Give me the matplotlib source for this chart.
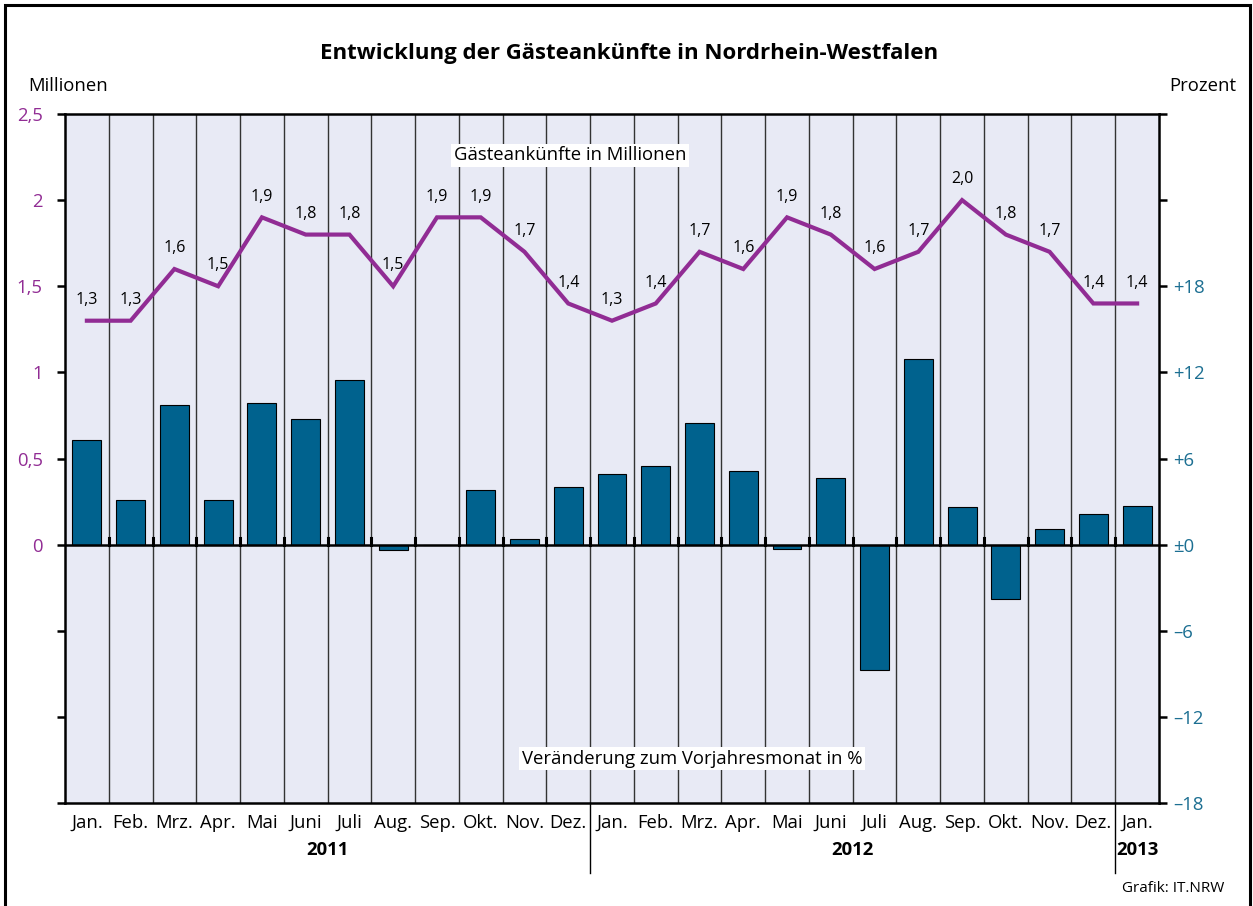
import matplotlib.pyplot as plt
import matplotlib.patches as patches
from matplotlib.transforms import blended_transform_factory

plt.rcParams['font.family'] = ['Open Sans', 'DejaVu Sans']

months = ['Jan.', 'Feb.', 'Mrz.', 'Apr.', 'Mai', 'Juni', 'Juli', 'Aug.',
          'Sep.', 'Okt.', 'Nov.', 'Dez.',
          'Jan.', 'Feb.', 'Mrz.', 'Apr.', 'Mai', 'Juni', 'Juli', 'Aug.',
          'Sep.', 'Okt.', 'Nov.', 'Dez.', 'Jan.']
arrivals = [1.3, 1.3, 1.6, 1.5, 1.9, 1.8, 1.8, 1.5, 1.9, 1.9, 1.7, 1.4,
            1.3, 1.4, 1.7, 1.6, 1.9, 1.8, 1.6, 1.7, 2.0, 1.8, 1.7, 1.4, 1.4]
change_pct = [7.3, 3.1, 9.7, 3.1, 9.9, 8.75, 11.5, -0.35, 0.0, 3.8, 0.4, 4.0,
              4.9, 5.5, 8.5, 5.1, -0.3, 4.65, -8.7, 12.9, 2.6, -3.8, 1.1, 2.15,
              2.7]
years = ['2011', '2012', '2013']
year_spans = [(0, 11), (12, 23), (24, 24)]

left_ticks = [2.5, 2, 1.5, 1, 0.5, 0, -0.5, -1, -1.5]
left_labels = ['2,5', '2', '1,5', '1', '0,5', '0', '', '', '']
right_ticks = [30, 24, 18, 12, 6, 0, -6, -12, -18]
right_labels = ['', '', '+18', '+12', '+6', '±0', '–6', '–12', '–18']

BAR = '#00628E'
LINE = '#912C94'
PCT = '#1C6F92'
BG = '#E8EAF5'
FS = 13.3

fig = plt.figure(figsize=(12.53, 9.06), dpi=100)
ax = fig.add_axes([65 / 1253, 1 - 803 / 906, 1094 / 1253, 689 / 906])
ax.set_facecolor(BG)
n = len(months)
x = list(range(n))

# percent axis (bars)
ax.set_xlim(-0.5, n - 0.5)
ax.set_ylim(-18, 30)
for b in range(1, n):
    ax.axvline(b - 0.5, color='#333333', lw=1.0, zorder=1)
    ax.plot([b - 0.5, b - 0.5], [0, 0.45], color='black', lw=2.2, zorder=4)
ax.bar(x, change_pct, width=0.66, color=BAR, edgecolor='black', lw=0.8,
       zorder=2)
ax.axhline(0, color='black', lw=1.8, zorder=4)
ax.set_xticks(x)
ax.set_xticklabels(months, fontsize=FS)
ax.tick_params(axis='x', length=0, pad=8)
for s in ax.spines.values():
    s.set_linewidth(1.8)

# millions axis (line)
axm = ax.twinx()
axm.set_ylim(-1.5, 2.5)
axm.plot(x, arrivals, color=LINE, lw=3.0, zorder=5, solid_joinstyle='miter')
for xi, v in zip(x, arrivals):
    axm.annotate(f'{v:.1f}'.replace('.', ','), (xi, v), xytext=(0, 15),
                 textcoords='offset points', ha='center', va='center',
                 fontsize=11.5)
for s in axm.spines.values():
    s.set_visible(False)

# tick sides: millions left, percent right
axm.yaxis.tick_left()
axm.set_yticks(left_ticks)
axm.set_yticklabels(left_labels, color=LINE, fontsize=FS)
axm.tick_params(axis='y', length=6, width=1.8, pad=10)
ax.yaxis.tick_right()
ax.set_yticks(right_ticks)
ax.set_yticklabels(right_labels, color=PCT, fontsize=FS)
ax.tick_params(axis='y', length=6, width=1.8, pad=4)

axm.text(11.04, 2.26, 'Gästeankünfte in Millionen', ha='center', va='center',
         fontsize=FS, bbox=dict(facecolor='white', edgecolor='none', pad=2))
ax.text(13.83, -14.9, 'Veränderung zum Vorjahresmonat in %', ha='center',
        va='center', fontsize=FS,
        bbox=dict(facecolor='white', edgecolor='none', pad=2))

# year labels and separators below the axis
tr = blended_transform_factory(ax.transData, ax.transAxes)
for name, (a, b) in zip(years, year_spans):
    ax.text((a + b) / 2, -0.068, name, transform=tr, ha='center', va='center',
            fontsize=FS, fontweight='bold')
for sep in [11.5, 23.5]:
    ax.plot([sep, sep], [0, -0.102], transform=tr, color='black', lw=1.0,
            clip_on=False)

fig.text(629 / 1253, 1 - 53 / 906,
         'Entwicklung der Gästeankünfte in Nordrhein-Westfalen',
         ha='center', va='center', fontsize=16, fontweight='bold')
fig.text(68 / 1253, 1 - 86 / 906, 'Millionen', ha='center', va='center',
         fontsize=FS)
fig.text(1203 / 1253, 1 - 86 / 906, 'Prozent', ha='center', va='center',
         fontsize=FS)
fig.text(1173 / 1253, 1 - 888 / 906, 'Grafik: IT.NRW', ha='center',
         va='center', fontsize=11)

fig.patches.append(patches.Rectangle((5 / 1253, -0.05), 1245 / 1253,
                                     1.05 - 5 / 906, transform=fig.transFigure,
                                     fill=False, edgecolor='black', lw=2.2))

fig.savefig('out.png', dpi=100)
